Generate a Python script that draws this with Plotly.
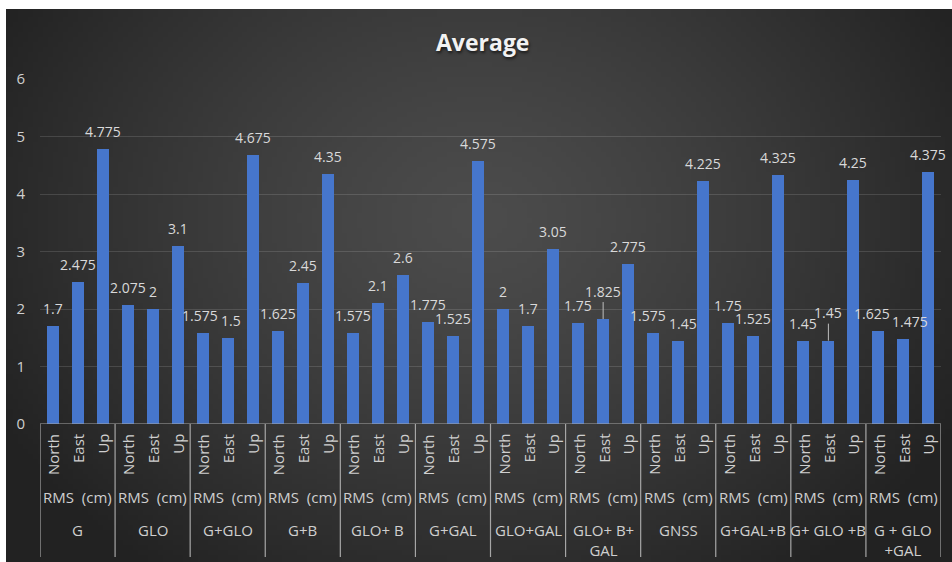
import base64, struct, zlib
import numpy as np
import plotly.graph_objects as go

# ---------------- data ----------------
groups = ["G", "GLO", "G+GLO", "G+B", "GLO+ B", "G+GAL", "GLO+GAL",
          "GLO+ B+<br>GAL", "GNSS", "G+GAL+B", "G+ GLO +B", "G + GLO<br>+GAL"]
metric_label = "RMS\u00a0 (cm)"
directions = ["North", "East", "Up"]
north = [1.7, 2.075, 1.575, 1.625, 1.575, 1.775, 2.0, 1.75, 1.575, 1.75, 1.45, 1.625]
east = [2.475, 2.0, 1.5, 2.45, 2.1, 1.525, 1.7, 1.825, 1.45, 1.525, 1.45, 1.475]
up = [4.775, 3.1, 4.675, 4.35, 2.6, 4.575, 3.05, 2.775, 4.225, 4.325, 4.25, 4.375]
y_ticks = [0, 1, 2, 3, 4, 5, 6]
# labels drawn with a leader line: (group index, direction index)
leader_labels = [(7, 1), (10, 1)]

# ---------------- flatten ----------------
values, xs = [], []
for g in range(len(groups)):
    for d, series in enumerate([north, east, up]):
        xs.append(g * 3 + d)
        values.append(series[g])

# ---------------- geometry ----------------
W, H = 952, 562
L, R, T, B = 40, 11, 79, 138
pw, ph = W - L - R, H - T - B
cat_px = pw / (len(groups) * 3)
LABEL_SIZE = 14


def py(p):  # pixel y -> paper y
    return (H - B - p) / ph


def px(p):  # pixel x -> paper x
    return (p - L) / pw


def text_w(s, size=LABEL_SIZE):
    return sum(0.27 if c == "." else 0.572 for c in s) * size


# ---------------- background gradient (decoration) ----------------
gw, gh = 190, 110
yy, xx = np.mgrid[0:gh, 0:gw]
u = (xx + 0.5) / gw
v = (yy + 0.5) / gh
r = np.sqrt(((u - 0.5) / 0.58) ** 2 + ((v - 0.38) / 0.8) ** 2)
r = np.clip(r, 0, 1)
c_center, c_edge = 0x4c, 0x22
img = (c_center + (c_edge - c_center) * r ** 1.3).astype(np.uint8)


def png_gray(arr):
    h, w = arr.shape
    raw = b"".join(b"\x00" + arr[i].tobytes() for i in range(h))

    def chunk(t, d):
        c = struct.pack(">I", len(d)) + t + d
        return c + struct.pack(">I", zlib.crc32(t + d) & 0xFFFFFFFF)

    return (b"\x89PNG\r\n\x1a\n"
            + chunk(b"IHDR", struct.pack(">IIBBBBB", w, h, 8, 0, 0, 0, 0))
            + chunk(b"IDAT", zlib.compress(raw))
            + chunk(b"IEND", b""))


bg_src = "data:image/png;base64," + base64.b64encode(png_gray(img)).decode()

FONT = "Open Sans"
label_color = "#d9d9d9"
axis_text_color = "#cfcfcf"

fig = go.Figure()
fig.add_trace(go.Bar(
    x=xs, y=values, width=0.48,
    marker=dict(color="#4676cc", line=dict(width=0)),
    hoverinfo="x+y", showlegend=False,
))

# horizontal nudges so that North/East labels at similar heights don't collide
shifts = {}
for g in range(len(groups)):
    if (g, 1) in leader_labels:
        continue
    n_s, e_s = f"{north[g]:g}", f"{east[g]:g}"
    if abs(north[g] - east[g]) <= 0.15:
        need = (text_w(n_s) + text_w(e_s)) / 2 + 3 - cat_px
        if need > 0:
            shifts[(g, 0)] = -need / 2
            shifts[(g, 1)] = need / 2

annotations = []
# data labels
for x, val in zip(xs, values):
    g, d = divmod(x, 3)
    txt = f"{val:g}"
    if (g, d) in leader_labels:
        annotations.append(dict(
            x=x, y=val, xref="x", yref="y", text=txt, showarrow=True,
            ax=0, ay=-28, arrowhead=0, arrowwidth=1, arrowcolor="#bfbfbf",
            standoff=0, font=dict(family=FONT, size=LABEL_SIZE, color=label_color)))
    else:
        annotations.append(dict(
            x=x, y=val, xref="x", yref="y", text=txt, showarrow=False,
            yanchor="bottom", yshift=6, xshift=shifts.get((g, d), 0),
            font=dict(family=FONT, size=LABEL_SIZE, color=label_color)))

# category axis labels
for g, name in enumerate(groups):
    for d, dname in enumerate(directions):
        annotations.append(dict(
            x=g * 3 + d, y=py(432), xref="x", yref="paper", text=dname,
            textangle=-90, showarrow=False, xanchor="center", yanchor="top",
            font=dict(family=FONT, size=15, color=axis_text_color)))
    annotations.append(dict(
        x=g * 3 + 1, y=py(497), xref="x", yref="paper", text=metric_label,
        showarrow=False, xanchor="center", yanchor="middle",
        font=dict(family=FONT, size=15, color=axis_text_color)))
    annotations.append(dict(
        x=g * 3 + 1, y=py(518), xref="x", yref="paper", text=name,
        showarrow=False, xanchor="center", yanchor="top",
        font=dict(family=FONT, size=15, color=axis_text_color)))

# title (with soft text shadow)
annotations.append(dict(
    x=px(482), y=py(42), xref="paper", yref="paper", text="<b>Average</b>",
    showarrow=False, xanchor="center", yanchor="middle",
    font=dict(family=FONT, size=23, color="#f2f2f2",
              shadow="1px 2px 3px rgba(0,0,0,0.6)")))

shapes = []
ncat = len(groups) * 3
shapes.append(dict(type="line", xref="x", yref="y", x0=-0.5, x1=ncat - 0.5,
                   y0=0, y1=0, line=dict(color="#a6a6a6", width=1.2)))
for k in range(len(groups) + 1):
    shapes.append(dict(type="line", xref="x", yref="paper",
                       x0=k * 3 - 0.5, x1=k * 3 - 0.5, y0=0, y1=py(557),
                       line=dict(color="#a6a6a6", width=1.2)))

fig.update_layout(
    width=W, height=H,
    margin=dict(l=L, r=R, t=T, b=B, pad=0),
    paper_bgcolor="white",
    plot_bgcolor="rgba(0,0,0,0)",
    images=[dict(source=bg_src, xref="paper", yref="paper",
                 x=px(6), y=py(9), sizex=px(W) - px(6), sizey=py(9) - py(H),
                 xanchor="left", yanchor="top", sizing="stretch",
                 layer="below")],
    xaxis=dict(range=[-0.5, ncat - 0.5], showticklabels=False, showgrid=False,
               zeroline=False, showline=False, fixedrange=True),
    yaxis=dict(range=[0, 6], tickvals=y_ticks, showgrid=True,
               gridcolor="rgba(255,255,255,0.13)", gridwidth=1,
               zeroline=False, showline=False, ticks="",
               ticklabelstandoff=14,
               tickfont=dict(family=FONT, size=15, color=axis_text_color)),
    annotations=annotations,
    shapes=shapes,
    bargap=0,
)

fig.write_html("out.html")
